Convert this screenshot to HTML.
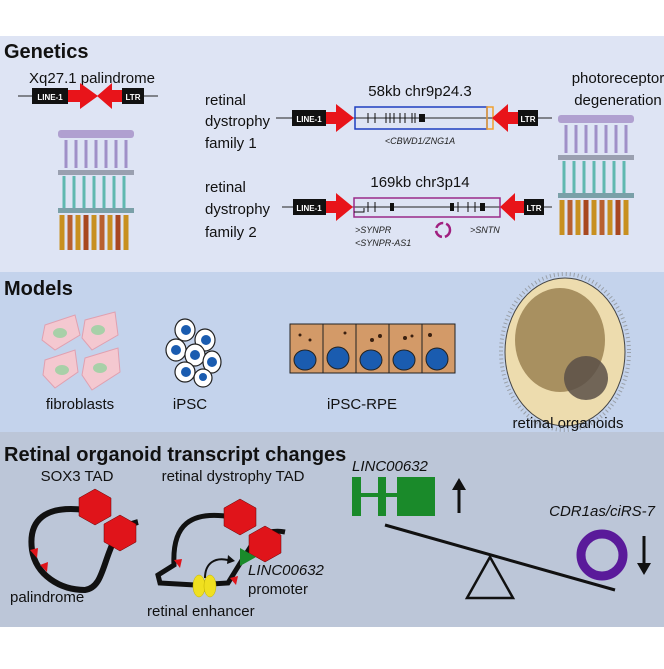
<!DOCTYPE html>
<html><head><meta charset="utf-8"><style>
body{margin:0;width:664px;height:664px;overflow:hidden;background:#fff}
text{font-family:"Liberation Sans",sans-serif}
</style></head><body>
<svg width="664" height="664" viewBox="0 0 664 664" xmlns="http://www.w3.org/2000/svg">
<rect x="0" y="36" width="664" height="236" fill="#dee4f4"/>
<rect x="0" y="272" width="664" height="160" fill="#c4d3ec"/>
<rect x="0" y="432" width="664" height="195" fill="#bcc6d8"/>

<text x="4" y="58" font-size="20" font-weight="bold" fill="#111">Genetics</text>
<text x="92" y="83" font-size="15" text-anchor="middle" fill="#111">Xq27.1 palindrome</text>
<line x1="18" y1="96" x2="158" y2="96" stroke="#222"/>
<rect x="32" y="88" width="36" height="16" fill="#111"/><text x="50" y="100" font-size="8" font-weight="bold" fill="#fff" text-anchor="middle">LINE-1</text>
<polygon points="68,90 80,90 80,83 98,96 80,109 80,102 68,102" fill="#e8141a"/>
<polygon points="124,90 112,90 112,83 97,96 112,109 112,102 124,102" fill="#e8141a"/>
<rect x="122" y="88" width="22" height="16" fill="#111"/><text x="133" y="100" font-size="8" font-weight="bold" fill="#fff" text-anchor="middle">LTR</text>

<g id="ret">
<rect x="58" y="130" width="76" height="8" rx="3" fill="#b0a0d0"/>
<g stroke="#a090c8" stroke-width="3">
<line x1="66" y1="140" x2="66" y2="168"/><line x1="76" y1="140" x2="76" y2="168"/><line x1="86" y1="140" x2="86" y2="168"/><line x1="96" y1="140" x2="96" y2="168"/><line x1="106" y1="140" x2="106" y2="168"/><line x1="116" y1="140" x2="116" y2="168"/><line x1="126" y1="140" x2="126" y2="168"/></g>
<rect x="58" y="170" width="76" height="5" fill="#9aa0b0"/>
<g stroke="#5fb8b0" stroke-width="3">
<line x1="64" y1="176" x2="64" y2="210"/><line x1="74" y1="176" x2="74" y2="210"/><line x1="84" y1="176" x2="84" y2="210"/><line x1="94" y1="176" x2="94" y2="210"/><line x1="104" y1="176" x2="104" y2="210"/><line x1="114" y1="176" x2="114" y2="210"/><line x1="124" y1="176" x2="124" y2="210"/></g>
<rect x="58" y="208" width="76" height="5" fill="#7aa0a8"/>
<g stroke-width="5">
<line x1="62" y1="215" x2="62" y2="250" stroke="#c89020"/><line x1="70" y1="215" x2="70" y2="250" stroke="#b86030"/><line x1="78" y1="215" x2="78" y2="250" stroke="#c89020"/><line x1="86" y1="215" x2="86" y2="250" stroke="#a84820"/><line x1="94" y1="215" x2="94" y2="250" stroke="#c89020"/><line x1="102" y1="215" x2="102" y2="250" stroke="#b86030"/><line x1="110" y1="215" x2="110" y2="250" stroke="#c89020"/><line x1="118" y1="215" x2="118" y2="250" stroke="#a84820"/><line x1="126" y1="215" x2="126" y2="250" stroke="#c89020"/></g>
</g>

<text x="205" y="105" font-size="15" fill="#111">retinal</text>
<text x="205" y="126" font-size="15" fill="#111">dystrophy</text>
<text x="205" y="148" font-size="15" fill="#111">family 1</text>
<text x="420" y="96" font-size="15" text-anchor="middle" fill="#111">58kb chr9p24.3</text>
<line x1="276" y1="118" x2="552" y2="118" stroke="#222"/>
<rect x="292" y="110" width="34" height="16" fill="#111"/><text x="309" y="122" font-size="8" font-weight="bold" fill="#fff" text-anchor="middle">LINE-1</text>
<polygon points="326,112 336,112 336,104 354,118 336,132 336,124 326,124" fill="#e8141a"/>
<rect x="355" y="107" width="132" height="22" fill="none" stroke="#1f3fc0" stroke-width="1.5"/>
<rect x="487" y="107" width="6" height="22" fill="none" stroke="#f0a030" stroke-width="1.5"/>
<g stroke="#111"><line x1="368" y1="113" x2="368" y2="123"/><line x1="375" y1="113" x2="375" y2="123"/><line x1="386" y1="113" x2="386" y2="123"/><line x1="390" y1="113" x2="390" y2="123"/><line x1="394" y1="113" x2="394" y2="123"/><line x1="400" y1="113" x2="400" y2="123"/><line x1="405" y1="113" x2="405" y2="123"/><line x1="412" y1="113" x2="412" y2="123"/><line x1="415" y1="113" x2="415" y2="123"/></g>
<rect x="419" y="114" width="6" height="8" fill="#111"/>
<polygon points="520,112 508,112 508,104 492,118 508,132 508,124 520,124" fill="#e8141a"/>
<rect x="518" y="110" width="20" height="16" fill="#111"/><text x="528" y="122" font-size="8" font-weight="bold" fill="#fff" text-anchor="middle">LTR</text>
<text x="420" y="144" font-size="9" font-style="italic" text-anchor="middle" fill="#222">&lt;CBWD1/ZNG1A</text>

<text x="205" y="192" font-size="15" fill="#111">retinal</text>
<text x="205" y="214" font-size="15" fill="#111">dystrophy</text>
<text x="205" y="237" font-size="15" fill="#111">family 2</text>
<text x="420" y="187" font-size="15" text-anchor="middle" fill="#111">169kb chr3p14</text>
<line x1="282" y1="207" x2="552" y2="207" stroke="#222"/>
<rect x="293" y="199" width="33" height="16" fill="#111"/><text x="309" y="211" font-size="8" font-weight="bold" fill="#fff" text-anchor="middle">LINE-1</text>
<polygon points="326,201 336,201 336,193 353,207 336,221 336,213 326,213" fill="#e8141a"/>
<rect x="354" y="198" width="146" height="19" fill="none" stroke="#9a2a8a" stroke-width="1.5"/>
<g stroke="#111"><line x1="368" y1="202" x2="368" y2="212"/><line x1="375" y1="202" x2="375" y2="212"/><line x1="458" y1="202" x2="458" y2="212"/><line x1="468" y1="202" x2="468" y2="212"/><line x1="475" y1="202" x2="475" y2="212"/></g>
<rect x="390" y="203" width="4" height="8" fill="#111"/><rect x="450" y="203" width="4" height="8" fill="#111"/><rect x="480" y="203" width="5" height="8" fill="#111"/>
<polyline points="354,212 364,212 364,208" fill="none" stroke="#111"/>
<polygon points="525,201 515,201 515,193 500,207 515,221 515,213 525,213" fill="#e8141a"/>
<rect x="524" y="199" width="20" height="16" fill="#111"/><text x="534" y="211" font-size="8" font-weight="bold" fill="#fff" text-anchor="middle">LTR</text>
<text x="355" y="233" font-size="9" font-style="italic" fill="#222">&gt;SYNPR</text>
<text x="355" y="246" font-size="9" font-style="italic" fill="#222">&lt;SYNPR-AS1</text>
<text x="470" y="233" font-size="9" font-style="italic" fill="#222">&gt;SNTN</text>
<circle cx="443" cy="230" r="7" fill="none" stroke="#a02080" stroke-width="2.5" stroke-dasharray="9 3"/>

<text x="618" y="83" font-size="15" text-anchor="middle" fill="#111">photoreceptor</text>
<text x="618" y="105" font-size="15" text-anchor="middle" fill="#111">degeneration</text>
<use href="#ret" transform="translate(500,-15)"/>

<text x="4" y="295" font-size="20" font-weight="bold" fill="#111">Models</text>
<g fill="#f4c8d0" stroke="#e0a0b0">
<polygon points="45,325 75,315 80,335 55,350 42,340"/><polygon points="85,320 115,312 118,335 92,350 82,338"/>
<polygon points="45,360 75,350 78,372 55,388 43,375"/><polygon points="85,358 118,348 120,372 92,390 82,375"/></g>
<g fill="#a8d0a8"><ellipse cx="60" cy="333" rx="7" ry="5"/><ellipse cx="98" cy="330" rx="7" ry="5"/><ellipse cx="62" cy="370" rx="7" ry="5"/><ellipse cx="100" cy="368" rx="7" ry="5"/></g>
<text x="80" y="409" font-size="15" text-anchor="middle" fill="#111">fibroblasts</text>
<g fill="#fff" stroke="#222" stroke-width="1.2">
<ellipse cx="185" cy="330" rx="10" ry="11"/><ellipse cx="205" cy="340" rx="10" ry="11"/><ellipse cx="176" cy="350" rx="10" ry="11"/><ellipse cx="195" cy="355" rx="10" ry="11"/><ellipse cx="212" cy="362" rx="9" ry="11"/><ellipse cx="185" cy="372" rx="10" ry="10"/><ellipse cx="203" cy="378" rx="9" ry="9"/></g>
<g fill="#1a5cb0"><circle cx="186" cy="330" r="5"/><circle cx="206" cy="340" r="5"/><circle cx="176" cy="350" r="5"/><circle cx="195" cy="355" r="5"/><circle cx="212" cy="362" r="5"/><circle cx="186" cy="372" r="5"/><circle cx="203" cy="377" r="4"/></g>
<text x="190" y="409" font-size="15" text-anchor="middle" fill="#111">iPSC</text>
<g fill="#d39a68" stroke="#222"><rect x="290" y="324" width="33" height="49"/><rect x="323" y="324" width="33" height="49"/><rect x="356" y="324" width="33" height="49"/><rect x="389" y="324" width="33" height="49"/><rect x="422" y="324" width="33" height="49"/></g>
<g fill="#1a5cb0" stroke="#222"><ellipse cx="305" cy="360" rx="11" ry="10"/><ellipse cx="338" cy="358" rx="11" ry="11"/><ellipse cx="371" cy="360" rx="11" ry="10"/><ellipse cx="404" cy="360" rx="11" ry="10"/><ellipse cx="437" cy="359" rx="11" ry="11"/></g>
<g fill="#3a2010"><circle cx="300" cy="335" r="1.5"/><circle cx="310" cy="340" r="1.5"/><circle cx="345" cy="333" r="1.5"/><circle cx="372" cy="340" r="2"/><circle cx="380" cy="336" r="2"/><circle cx="405" cy="338" r="2"/><circle cx="412" cy="336" r="1.5"/><circle cx="430" cy="335" r="2"/></g>
<text x="362" y="409" font-size="15" text-anchor="middle" fill="#111">iPSC-RPE</text>
<ellipse cx="565" cy="352" rx="64" ry="78" fill="none" stroke="#9aa0a8" stroke-width="4" stroke-dasharray="1 3"/>
<ellipse cx="565" cy="352" rx="60" ry="74" fill="#eddcae" stroke="#444"/>
<ellipse cx="560" cy="340" rx="45" ry="52" fill="#a89060"/>
<circle cx="586" cy="378" r="22" fill="#5a5048" opacity="0.85"/>
<text x="568" y="428" font-size="15" text-anchor="middle" fill="#111">retinal organoids</text>

<text x="4" y="461" font-size="20" font-weight="bold" fill="#111">Retinal organoid transcript changes</text>
<text x="77" y="481" font-size="15" text-anchor="middle" fill="#111">SOX3 TAD</text>
<text x="233" y="481" font-size="15" text-anchor="middle" fill="#111">retinal dystrophy TAD</text>
<path d="M85,510 C45,505 28,520 32,550 C36,575 60,590 85,590 C100,588 102,570 110,550 C115,535 125,525 138,522" fill="none" stroke="#111" stroke-width="6"/>
<polygon points="95,489 111,498 111,516 95,525 79,516 79,498" fill="#e0141a" stroke="#600" stroke-width="0.5"/>
<polygon points="120,515 136,524 136,542 120,551 104,542 104,524" fill="#e0141a" stroke="#600" stroke-width="0.5"/>
<polygon points="30,550 38,548 37,558" fill="#e0141a"/><polygon points="40,565 48,562 47,572" fill="#e0141a"/>
<text x="10" y="602" font-size="15" fill="#111">palindrome</text>
<path d="M232,517 C190,510 172,525 174,565 L158,575 L160,583 L195,585 L228,583 C236,570 245,555 255,540 C262,532 275,530 285,532" fill="none" stroke="#111" stroke-width="5"/>
<polygon points="240,499 256,508 256,526 240,535 224,526 224,508" fill="#e0141a" stroke="#600" stroke-width="0.5"/>
<polygon points="265,526 281,535 281,553 265,562 249,553 249,535" fill="#e0141a" stroke="#600" stroke-width="0.5"/>
<polygon points="240,548 240,566 256,557" fill="#1a8a2a"/>
<path d="M205,578 C205,563 215,557 228,560" fill="none" stroke="#111" stroke-width="2"/>
<polygon points="228,555 235,561 227,564" fill="#111"/>
<ellipse cx="199" cy="586" rx="6" ry="11" fill="#f0e020" stroke="#c0b000" stroke-width="0.5"/><ellipse cx="210" cy="586" rx="6" ry="11" fill="#f0e020" stroke="#c0b000" stroke-width="0.5"/>
<polygon points="174,560 182,559 180,568" fill="#e0141a"/><polygon points="230,578 238,576 236,585" fill="#e0141a"/>
<text x="248" y="575" font-size="15" font-style="italic" fill="#111">LINC00632</text>
<text x="248" y="594" font-size="15" fill="#111">promoter</text>
<text x="147" y="616" font-size="15" fill="#111">retinal enhancer</text>

<text x="352" y="471" font-size="15" font-style="italic" fill="#111">LINC00632</text>
<rect x="352" y="477" width="9" height="39" fill="#1a8a2a"/><rect x="378" y="477" width="8" height="39" fill="#1a8a2a"/><rect x="361" y="493" width="36" height="4" fill="#1a8a2a"/><rect x="397" y="477" width="38" height="39" fill="#1a8a2a"/>
<line x1="459" y1="513" x2="459" y2="487" stroke="#111" stroke-width="3"/><polygon points="452,490 459,478 466,490" fill="#111"/>
<line x1="385" y1="525" x2="615" y2="590" stroke="#111" stroke-width="3"/>
<polygon points="490,557 467,598 513,598" fill="none" stroke="#111" stroke-width="2.5"/>
<text x="655" y="516" font-size="15" font-style="italic" text-anchor="end" fill="#111">CDR1as/ciRS-7</text>
<circle cx="602" cy="555" r="21" fill="none" stroke="#5a1a9a" stroke-width="9"/>
<line x1="644" y1="536" x2="644" y2="566" stroke="#111" stroke-width="3"/><polygon points="637,563 644,575 651,563" fill="#111"/>
</svg>
</body></html>
